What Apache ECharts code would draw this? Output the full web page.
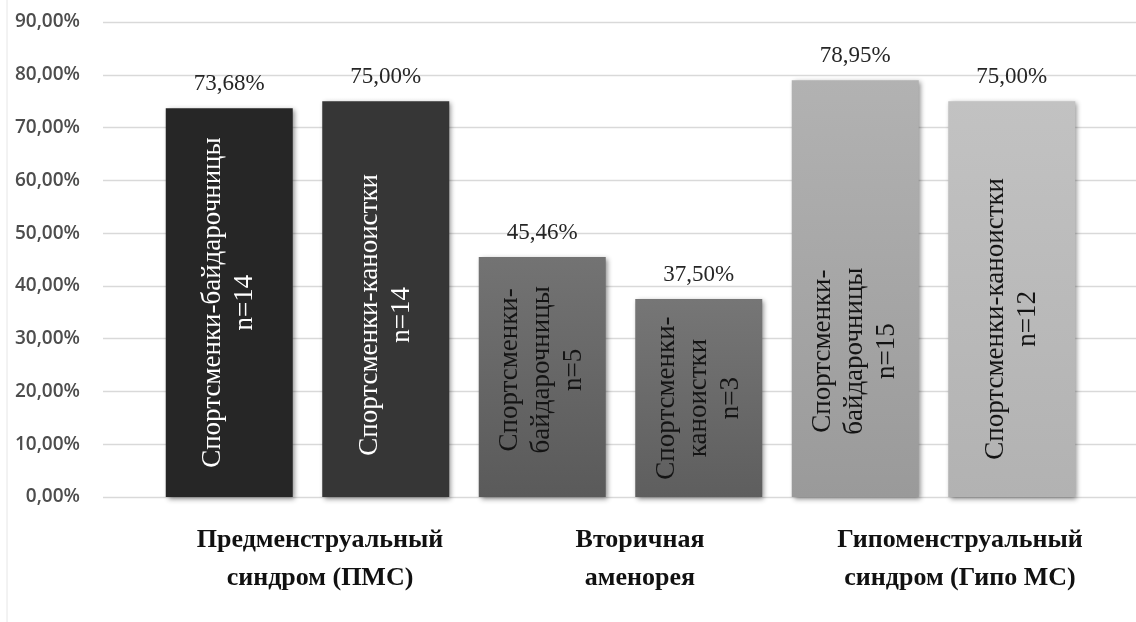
<!DOCTYPE html>
<html>
<head>
<meta charset="utf-8">
<script src="https://cdn.jsdelivr.net/npm/echarts@6/dist/echarts.min.js"></script>
<style>
html,body{margin:0;padding:0;background:#fff;}
#chart{width:1136px;height:622px;}
</style>
</head>
<body>
<div id="chart"></div>
<script>
// ---- data ----
const groups = ['Предменструальный\nсиндром (ПМС)', 'Вторичная\nаменорея', 'Гипоменструальный\nсиндром (Гипо МС)'];
const barNames = [
  'Спортсменки-байдарочницы\nn=14',
  'Спортсменки-каноистки\nn=14',
  'Спортсменки-\nбайдарочницы\nn=5',
  'Спортсменки-\nканоистки\nn=3',
  'Спортсменки-\nбайдарочницы\nn=15',
  'Спортсменки-каноистки\nn=12'
];
const values = [73.68, 75.00, 45.46, 37.50, 78.95, 75.00];
const yMin = 0, yMax = 90, yStep = 10;

// ---- styles ----
const barColors = [
  ['#262626', '#262626'],
  ['#363636', '#363636'],
  ['#737373', '#5a5a5a'],
  ['#767676', '#5e5e5e'],
  ['#b2b2b2', '#9a9a9a'],
  ['#c2c2c2', '#b2b2b2']
];
const textColors = ['#ffffff', '#ffffff', '#141414', '#141414', '#141414', '#141414'];
const labelPos = [['50%','50%'], ['50%','54%'], ['50%','47%'], ['50%','50%'], ['50%','65%'], ['50%','55%']];

const fmt = v => v.toFixed(2).replace('.', ',') + '%';

const chart = echarts.init(document.getElementById('chart'), null, {renderer: 'canvas'});

const barData = values.map((v, i) => ({
  value: v,
  name: barNames[i],
  itemStyle: {
    color: new echarts.graphic.LinearGradient(0, 0, 0, 1, [
      {offset: 0, color: barColors[i][0]},
      {offset: 1, color: barColors[i][1]}
    ])
  },
  label: {
    color: textColors[i],
    position: labelPos[i]
  }
}));

const option = {
  backgroundColor: '#ffffff',
  animation: false,
  grid: [
    {left: 103, right: 0, top: 22, bottom: 125},
    {left: 151, right: 46, top: 22, bottom: 125},
    {left: 160, right: 16, top: 22, bottom: 125}
  ],
  xAxis: [
    {gridIndex: 0, type: 'category', data: [''], show: false},
    {gridIndex: 1, type: 'category', data: barNames, show: false},
    {gridIndex: 2, type: 'category', data: groups,
      axisLine: {show: false}, axisTick: {show: false},
      axisLabel: {
        margin: 24, interval: 0,
        fontFamily: 'Liberation Serif', fontSize: 26, fontWeight: 'bold', color: '#111111',
        lineHeight: 38, align: 'center'
      }
    }
  ],
  yAxis: [
    {gridIndex: 0, type: 'value', min: yMin, max: yMax, interval: yStep,
      axisLine: {show: false}, axisTick: {show: false},
      splitLine: {lineStyle: {color: '#d9d9d9', width: 1.3}},
      axisLabel: {
        margin: 23, fontFamily: 'Open Sans', fontSize: 19, fontWeight: 600, color: '#4d4d4d',
        formatter: v => fmt(v)
      }
    },
    {gridIndex: 1, type: 'value', min: yMin, max: yMax, interval: yStep, show: false, splitLine: {show: false}},
    {gridIndex: 2, type: 'value', min: yMin, max: yMax, show: false, splitLine: {show: false}}
  ],
  series: [
    {
      type: 'bar', xAxisIndex: 1, yAxisIndex: 1,
      barWidth: 127,
      data: barData,
      itemStyle: {
        shadowBlur: 5, shadowColor: 'rgba(0,0,0,0.45)', shadowOffsetX: 2, shadowOffsetY: 2
      },
      label: {
        show: true,
        rotate: 90,
        align: 'center',
        verticalAlign: 'middle',
        fontFamily: 'Liberation Serif',
        fontSize: 27,
        lineHeight: 32,
        formatter: p => p.name
      },
      z: 2
    },
    {
      type: 'bar', xAxisIndex: 1, yAxisIndex: 1,
      barWidth: 127, barGap: '-100%',
      data: values,
      itemStyle: {color: 'rgba(0,0,0,0)'},
      label: {
        show: true, position: 'top', distance: 13,
        fontFamily: 'Liberation Serif', fontSize: 23, color: '#262626',
        formatter: p => fmt(p.value)
      },
      z: 3
    }
  ],
  graphic: [
    {type: 'line', shape: {x1: 7, y1: 0, x2: 7, y2: 622}, style: {stroke: '#e6e6e6', lineWidth: 1}}
  ]
};
chart.setOption(option);
</script>
</body>
</html>
